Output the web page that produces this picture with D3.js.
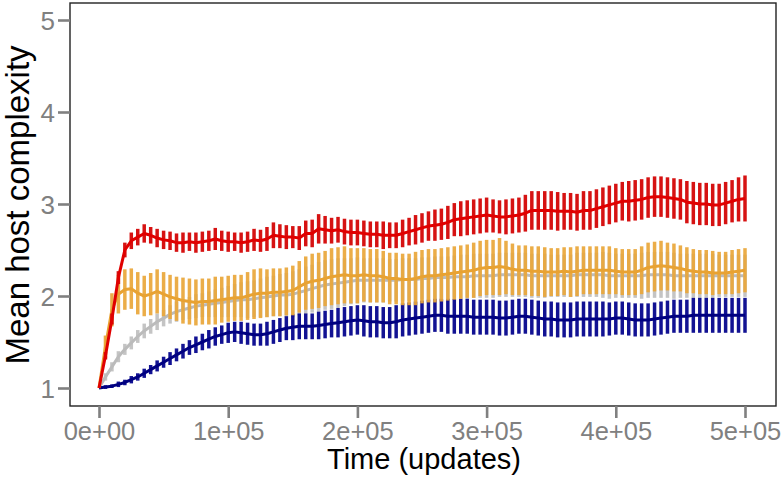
<!DOCTYPE html>
<html>
<head>
<meta charset="utf-8">
<script src="https://cdn.jsdelivr.net/npm/d3@7"></script>
<style>
html,body{margin:0;padding:0;background:#fff;}
svg{display:block;font-family:"Liberation Sans",Arial,Helvetica,sans-serif;}
</style>
</head>
<body>
<svg id="chart" width="784" height="484"></svg>
<script>
// Time points (updates), sampled every 5000
const times = d3.range(0, 500001, 5000);

const xTicks = [0, 100000, 200000, 300000, 400000, 500000];
const xTickLabels = ["0e+00", "1e+05", "2e+05", "3e+05", "4e+05", "5e+05"];
const yTicks = [1, 2, 3, 4, 5];

const grayMean = [1.00,1.12,1.23,1.34,1.42,1.49,1.56,1.62,1.67,1.72,1.76,1.80,1.83,1.85,1.87,1.89,1.90,1.91,1.92,1.93,
1.94,1.95,1.96,1.96,1.97,1.98,1.99,2.00,2.01,2.01,2.02,2.04,2.06,2.08,2.10,2.12,2.13,2.14,2.15,2.16,
2.17,2.17,2.17,2.17,2.17,2.17,2.17,2.18,2.18,2.18,2.19,2.19,2.20,2.20,2.20,2.21,2.21,2.21,2.22,2.22,
2.22,2.22,2.23,2.23,2.23,2.23,2.23,2.22,2.22,2.22,2.22,2.22,2.22,2.22,2.23,2.23,2.23,2.23,2.23,2.22,
2.22,2.22,2.22,2.22,2.22,2.23,2.23,2.23,2.23,2.22,2.22,2.22,2.22,2.22,2.22,2.22,2.22,2.22,2.22,2.22,2.22];
const grayErr = [0,0.04,0.05,0.06,0.06,0.07,0.07,0.08,0.08,0.09,0.09,0.10,0.11,0.11,0.12,0.13,0.13,0.14,0.15,0.16,
0.17,0.18,0.19,0.20,0.20,0.21,0.22,0.22,0.23,0.24,0.25,0.25,0.26,0.26,0.27,0.27,0.27,0.27,0.26,0.25,
0.25,0.24,0.24,0.24,0.24,0.23,0.23,0.23,0.23,0.23,0.23,0.23,0.23,0.23,0.23,0.23,0.24,0.24,0.24,0.24,
0.24,0.24,0.24,0.24,0.24,0.24,0.24,0.24,0.24,0.24,0.23,0.23,0.23,0.23,0.24,0.24,0.24,0.24,0.25,0.25,
0.24,0.24,0.24,0.24,0.25,0.25,0.25,0.25,0.25,0.25,0.24,0.24,0.24,0.24,0.24,0.24,0.23,0.23,0.23,0.23,0.23];

const blueMean = [1.00,1.01,1.02,1.04,1.06,1.09,1.12,1.16,1.20,1.24,1.28,1.32,1.36,1.40,1.44,1.47,1.50,1.53,1.56,1.58,
1.60,1.61,1.60,1.59,1.58,1.58,1.59,1.61,1.63,1.65,1.66,1.67,1.67,1.67,1.68,1.69,1.70,1.71,1.72,1.73,
1.74,1.73,1.72,1.72,1.71,1.71,1.72,1.74,1.75,1.76,1.77,1.78,1.79,1.79,1.78,1.78,1.78,1.78,1.77,1.77,
1.77,1.77,1.76,1.76,1.77,1.78,1.78,1.77,1.76,1.75,1.75,1.74,1.74,1.74,1.75,1.75,1.75,1.75,1.75,1.75,
1.76,1.76,1.75,1.74,1.74,1.74,1.75,1.76,1.77,1.78,1.78,1.78,1.79,1.79,1.79,1.79,1.79,1.79,1.79,1.79,1.79];
const blueErr = [0,0.02,0.02,0.03,0.03,0.04,0.04,0.05,0.05,0.06,0.06,0.07,0.07,0.08,0.08,0.09,0.09,0.10,0.10,0.10,
0.11,0.11,0.12,0.12,0.12,0.12,0.13,0.13,0.13,0.13,0.14,0.14,0.14,0.14,0.15,0.15,0.15,0.16,0.16,0.16,
0.16,0.17,0.17,0.17,0.17,0.17,0.18,0.18,0.18,0.18,0.18,0.18,0.18,0.18,0.19,0.19,0.19,0.19,0.19,0.19,
0.19,0.19,0.19,0.19,0.19,0.19,0.19,0.19,0.19,0.19,0.19,0.19,0.19,0.19,0.19,0.19,0.19,0.19,0.19,0.18,
0.18,0.18,0.18,0.18,0.18,0.18,0.18,0.18,0.18,0.18,0.18,0.18,0.19,0.19,0.19,0.19,0.19,0.19,0.19,0.19,0.19];

const orangeMean = [1.00,1.45,1.85,2.02,2.07,2.08,2.03,2.00,2.02,2.05,2.02,1.99,1.97,1.95,1.94,1.93,1.94,1.94,1.95,1.96,
1.97,1.98,1.98,2.00,2.02,2.03,2.03,2.04,2.04,2.05,2.06,2.10,2.14,2.16,2.17,2.19,2.21,2.22,2.23,2.22,
2.22,2.23,2.22,2.22,2.21,2.19,2.19,2.18,2.18,2.19,2.21,2.22,2.22,2.23,2.24,2.25,2.26,2.27,2.28,2.30,
2.31,2.31,2.32,2.31,2.29,2.28,2.28,2.27,2.27,2.26,2.26,2.26,2.27,2.26,2.27,2.28,2.28,2.28,2.28,2.28,
2.27,2.26,2.26,2.26,2.28,2.31,2.32,2.33,2.32,2.31,2.30,2.28,2.27,2.26,2.26,2.25,2.25,2.25,2.26,2.27,2.28];
const orangeErr = [0,0.12,0.18,0.21,0.22,0.22,0.23,0.22,0.23,0.24,0.24,0.24,0.24,0.25,0.25,0.25,0.25,0.25,0.26,0.25,
0.25,0.25,0.25,0.26,0.27,0.27,0.26,0.26,0.26,0.26,0.27,0.28,0.29,0.30,0.30,0.30,0.31,0.31,0.31,0.30,
0.30,0.29,0.29,0.29,0.28,0.28,0.28,0.28,0.28,0.29,0.29,0.29,0.29,0.29,0.29,0.29,0.29,0.29,0.30,0.30,
0.30,0.30,0.31,0.29,0.28,0.27,0.27,0.27,0.27,0.27,0.26,0.26,0.26,0.27,0.27,0.26,0.26,0.26,0.26,0.26,
0.25,0.25,0.25,0.25,0.26,0.27,0.27,0.27,0.26,0.26,0.25,0.25,0.24,0.24,0.24,0.24,0.23,0.23,0.24,0.24,0.24];

const redMean = [1.00,1.35,1.75,2.20,2.50,2.60,2.64,2.68,2.66,2.63,2.61,2.60,2.58,2.58,2.59,2.58,2.59,2.60,2.62,2.60,
2.59,2.59,2.58,2.59,2.61,2.60,2.62,2.66,2.65,2.64,2.64,2.63,2.68,2.68,2.73,2.72,2.71,2.72,2.70,2.69,
2.69,2.68,2.67,2.67,2.66,2.66,2.66,2.68,2.70,2.72,2.74,2.76,2.77,2.78,2.80,2.83,2.84,2.85,2.86,2.87,
2.88,2.87,2.86,2.86,2.87,2.88,2.90,2.93,2.93,2.93,2.93,2.92,2.92,2.92,2.91,2.93,2.93,2.95,2.97,2.99,
3.01,3.03,3.03,3.04,3.05,3.07,3.08,3.08,3.07,3.06,3.05,3.02,3.01,3.00,3.00,2.99,2.99,3.01,3.03,3.05,3.06];
const redErr = [0,0.04,0.06,0.07,0.08,0.09,0.09,0.10,0.09,0.10,0.10,0.10,0.10,0.11,0.10,0.11,0.11,0.11,0.12,0.11,
0.11,0.10,0.11,0.11,0.12,0.12,0.13,0.14,0.13,0.13,0.12,0.13,0.14,0.15,0.16,0.15,0.14,0.14,0.14,0.14,
0.14,0.14,0.14,0.14,0.15,0.14,0.14,0.15,0.15,0.16,0.16,0.16,0.17,0.17,0.18,0.18,0.19,0.19,0.19,0.19,
0.19,0.18,0.18,0.19,0.19,0.19,0.20,0.21,0.21,0.21,0.21,0.21,0.20,0.20,0.20,0.21,0.21,0.21,0.21,0.21,
0.21,0.21,0.22,0.22,0.22,0.22,0.22,0.22,0.22,0.22,0.22,0.23,0.23,0.23,0.23,0.23,0.23,0.23,0.23,0.24,0.25];

const seriesList = [
  {name: "gray",   mean: grayMean,   err: grayErr,   bar: "#c0c0c0", line: "#bbbbbb"},
  {name: "blue",   mean: blueMean,   err: blueErr,   bar: "#00008b", line: "#000080"},
  {name: "orange", mean: orangeMean, err: orangeErr, bar: "#eaa73a", line: "#e8a232"},
  {name: "red",    mean: redMean,    err: redErr,    bar: "#d30000", line: "#e00000"}
];

const svg = d3.select("#chart");
const panel = {left: 70, right: 776, top: 3, bottom: 406};

const x = d3.scaleLinear().domain([0, 500000]).range([99, 745]);
const y = d3.scaleLinear().domain([1, 5]).range([388, 20]);

const plot = svg.append("g");

seriesList.forEach(s => {
  const g = plot.append("g").attr("class", "series-" + s.name);
  g.selectAll("line.bar")
    .data(times)
    .join("line")
    .attr("class", "bar")
    .attr("x1", (t) => x(t))
    .attr("x2", (t) => x(t))
    .attr("y1", (t, i) => y(s.mean[i] - s.err[i]))
    .attr("y2", (t, i) => y(s.mean[i] + s.err[i]))
    .attr("stroke", s.bar)
    .attr("stroke-width", 3.5)
    .attr("stroke-opacity", 0.93);
  const line = d3.line().x((t) => x(t)).y((t, i) => y(s.mean[i]));
  g.append("path")
    .datum(times)
    .attr("d", line)
    .attr("fill", "none")
    .attr("stroke", s.line)
    .attr("stroke-width", 3)
    .attr("stroke-linejoin", "round");
});

// panel border
svg.append("rect")
  .attr("x", panel.left).attr("y", panel.top)
  .attr("width", panel.right - panel.left)
  .attr("height", panel.bottom - panel.top)
  .attr("fill", "none")
  .attr("stroke", "#222")
  .attr("stroke-width", 1.4);

// X axis
const xAxis = d3.axisBottom(x)
  .tickValues(xTicks)
  .tickFormat((d, i) => xTickLabels[i])
  .tickSize(12)
  .tickPadding(4);
const gx = svg.append("g").attr("transform", `translate(0,${panel.bottom})`).call(xAxis);
gx.select(".domain").remove();
gx.selectAll(".tick line").attr("stroke", "#808080").attr("stroke-width", 2.6);
gx.selectAll(".tick text").attr("fill", "#808080").attr("font-size", 25.5)
  .attr("font-family", "'Liberation Sans', Arial, sans-serif").attr("dy", "0.71em").attr("y", 15.5);

// Y axis
const yAxis = d3.axisLeft(y)
  .tickValues(yTicks)
  .tickFormat(d3.format("d"))
  .tickSize(12)
  .tickPadding(3);
const gy = svg.append("g").attr("transform", `translate(${panel.left},0)`).call(yAxis);
gy.select(".domain").remove();
gy.selectAll(".tick line").attr("stroke", "#808080").attr("stroke-width", 2.6);
gy.selectAll(".tick text").attr("fill", "#808080").attr("font-size", 26)
  .attr("font-family", "'Liberation Sans', Arial, sans-serif").attr("dy", "0.36em");

// Titles
svg.append("text")
  .attr("x", 424).attr("y", 469)
  .attr("text-anchor", "middle")
  .attr("font-size", 29)
  .attr("fill", "#000")
  .text("Time (updates)");

svg.append("text")
  .attr("transform", "translate(29,205) rotate(-90)")
  .attr("text-anchor", "middle")
  .attr("font-size", 33)
  .attr("fill", "#000")
  .text("Mean host complexity");
</script>
</body>
</html>
